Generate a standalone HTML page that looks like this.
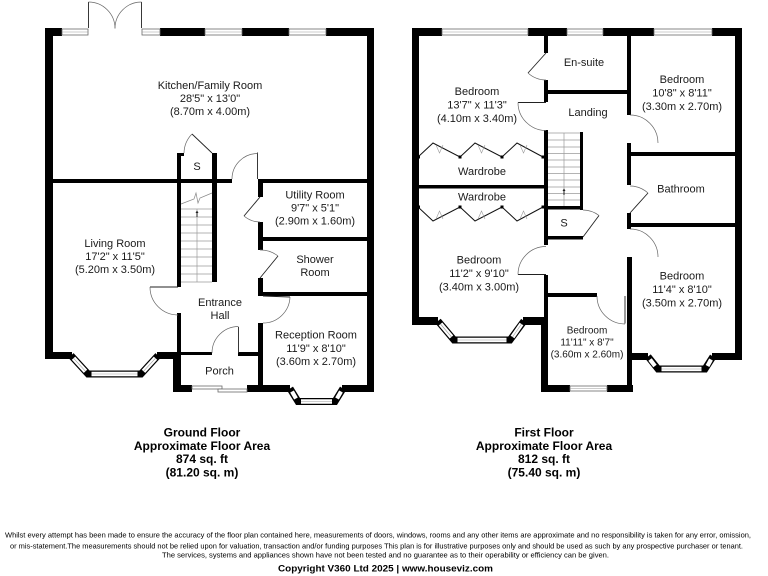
<!DOCTYPE html>
<html><head><meta charset="utf-8"><style>
html,body{margin:0;padding:0;background:#fff;}
svg{display:block;}
text{font-family:"Liberation Sans",Arial,sans-serif;fill:#1a1a1a;}
.r{font-size:11px;text-anchor:middle;}
.b{font-size:12px;font-weight:bold;text-anchor:middle;fill:#000;}
.d{font-size:7.2px;fill:#000;}
.w{fill:#000;}
.win{fill:#fff;stroke:#6a6a6a;stroke-width:0.8;}
.wl{stroke:#9a9a9a;stroke-width:0.6;}
.lf{stroke:#222;stroke-width:0.9;fill:none;}
.arc{stroke:#666;stroke-width:0.7;fill:none;}
.st{stroke:#9a9a9a;stroke-width:0.7;}
</style></head><body>
<svg width="768" height="576" viewBox="0 0 768 576" xmlns="http://www.w3.org/2000/svg">
<rect width="768" height="576" fill="#fff"/>

<!-- ================= GROUND FLOOR ================= -->
<!-- top wall -->
<rect class="w" x="45" y="28" width="17" height="8"/>
<rect class="w" x="160" y="28" width="45" height="8"/>
<rect class="w" x="242" y="28" width="47" height="8"/>
<rect class="w" x="326" y="28" width="48" height="8"/>
<rect class="win" x="62" y="29" width="26" height="6"/><line class="wl" x1="62" y1="32" x2="88" y2="32"/>
<rect class="win" x="142" y="29" width="18" height="6"/><line class="wl" x1="142" y1="32" x2="160" y2="32"/>
<rect class="win" x="205" y="29" width="37" height="6"/><line class="wl" x1="205" y1="32" x2="242" y2="32"/>
<rect class="win" x="289" y="29" width="37" height="6"/><line class="wl" x1="289" y1="32" x2="326" y2="32"/>
<!-- french doors -->
<line class="lf" x1="88.5" y1="28" x2="88.5" y2="2"/>
<line class="lf" x1="141.5" y1="28" x2="141.5" y2="2"/>
<path class="arc" d="M88.5,2 A26.5,26.5 0 0 1 115,28.5"/>
<path class="arc" d="M141.5,2 A26.5,26.5 0 0 0 115,28.5"/>

<!-- outer side walls -->
<rect class="w" x="45" y="28" width="8" height="331"/>
<rect class="w" x="367" y="28" width="7" height="364"/>

<!-- living room bottom + bay -->
<rect class="w" x="45" y="352" width="27" height="7"/>
<rect class="w" x="157" y="352" width="24" height="7"/>
<polyline points="71,355.5 88,374 141,374 158,355.5" fill="none" stroke="#000" stroke-width="7" stroke-linejoin="miter"/>
<line x1="73.5" y1="358.2" x2="85.5" y2="371.3" stroke="#fff" stroke-width="4.6"/>
<line x1="73.5" y1="358.2" x2="85.5" y2="371.3" class="wl"/>
<line x1="91.5" y1="374" x2="137.5" y2="374" stroke="#fff" stroke-width="4.6"/>
<line x1="91.5" y1="374" x2="137.5" y2="374" class="wl"/>
<line x1="143.5" y1="371.3" x2="155.5" y2="358.2" stroke="#fff" stroke-width="4.6"/>
<line x1="143.5" y1="371.3" x2="155.5" y2="358.2" class="wl"/>

<!-- porch -->
<rect class="w" x="173" y="352" width="8" height="40"/>
<rect class="w" x="173" y="385" width="19" height="7"/>
<rect class="w" x="247" y="385" width="16" height="7"/>
<rect class="win" x="192" y="386" width="30" height="3"/>
<rect class="win" x="218" y="389" width="29" height="3"/>
<rect class="w" x="181" y="352" width="31" height="3"/>
<rect class="w" x="238" y="352" width="22" height="4"/>
<line class="lf" x1="238.5" y1="353" x2="238.5" y2="327"/>
<path class="arc" d="M212,353 A26.5,26.5 0 0 1 238.5,326.5"/>

<!-- reception bottom + bay -->
<rect class="w" x="258" y="385" width="32" height="7"/>
<rect class="w" x="342" y="385" width="32" height="7"/>
<polyline points="290,388.5 298,401.5 335,401.5 343,388.5" fill="none" stroke="#000" stroke-width="7" stroke-linejoin="miter"/>
<line x1="292" y1="391.5" x2="296" y2="398.5" stroke="#fff" stroke-width="4.2"/>
<line x1="301" y1="401.5" x2="332" y2="401.5" stroke="#fff" stroke-width="4.6"/>
<line x1="301" y1="401.5" x2="332" y2="401.5" class="wl"/>
<line x1="337" y1="398.5" x2="341" y2="391.5" stroke="#fff" stroke-width="4.2"/>

<!-- interior walls -->
<rect class="w" x="53" y="179" width="179" height="4"/>
<rect class="w" x="258" y="179" width="109" height="4"/>
<line class="lf" x1="257.5" y1="179" x2="257.5" y2="152.5"/>
<path class="arc" d="M232,179 A25.5,25.5 0 0 1 257.5,153.5"/>

<!-- S cupboard -->
<rect class="w" x="177" y="153" width="4" height="26"/>
<rect class="w" x="177" y="153" width="7" height="3"/>
<rect class="w" x="212" y="153" width="5" height="26"/>
<line class="lf" x1="212" y1="153" x2="192" y2="134"/>
<path class="arc" d="M184,153 A28,28 0 0 1 192,134"/>
<text class="r" x="197" y="170">S</text>

<!-- stairs -->
<rect class="w" x="177" y="183" width="4" height="104"/>
<rect class="w" x="177" y="313" width="4" height="40"/>
<rect class="w" x="212" y="183" width="5" height="99"/>
<g class="st">
<line x1="181" y1="209" x2="212" y2="209"/>
<line x1="181" y1="217" x2="212" y2="217"/>
<line x1="181" y1="225" x2="212" y2="225"/>
<line x1="181" y1="233" x2="212" y2="233"/>
<line x1="181" y1="241" x2="212" y2="241"/>
<line x1="181" y1="249" x2="212" y2="249"/>
<line x1="181" y1="257" x2="212" y2="257"/>
<line x1="181" y1="266" x2="212" y2="266"/>
<line x1="181" y1="274" x2="212" y2="274"/>
<line x1="181" y1="282" x2="212" y2="282"/>
<line x1="197" y1="209" x2="197" y2="282"/>
</g>
<polyline points="181,204 194,199 196,193 198,203 200,198 212,193" fill="none" stroke="#888" stroke-width="0.7"/>
<line x1="197" y1="211" x2="197" y2="217" stroke="#222" stroke-width="1"/>
<path d="M195.5,213 L197,210.5 L198.5,213 Z" fill="#222"/>

<!-- living door -->
<line class="lf" x1="178" y1="287" x2="150" y2="287"/>
<path class="arc" d="M150,287 A28,28 0 0 0 178,315"/>

<!-- right column wall -->
<rect class="w" x="258" y="183" width="5" height="14"/>
<rect class="w" x="258" y="222" width="5" height="28"/>
<rect class="w" x="258" y="278" width="5" height="18"/>
<rect class="w" x="258" y="323" width="5" height="69"/>
<rect class="w" x="263" y="237" width="104" height="4"/>
<rect class="w" x="263" y="292" width="104" height="4"/>
<!-- utility door -->
<line class="lf" x1="260" y1="197" x2="244" y2="216"/>
<path class="arc" d="M244,216 A25,25 0 0 0 260,222"/>
<!-- shower door -->
<line class="lf" x1="260" y1="278" x2="278" y2="256"/>
<path class="arc" d="M278,256 A28,28 0 0 0 260,250"/>
<!-- reception door -->
<line class="lf" x1="263" y1="296" x2="290" y2="297"/>
<path class="arc" d="M290,297 A27,27 0 0 1 263,323"/>

<!-- GF labels -->
<text class="r" x="210" y="89">Kitchen/Family Room</text>
<text class="r" x="210" y="102">28'5" x 13'0"</text>
<text class="r" x="210" y="115">(8.70m x 4.00m)</text>
<text class="r" x="115" y="247">Living Room</text>
<text class="r" x="115" y="260">17'2" x 11'5"</text>
<text class="r" x="115" y="273">(5.20m x 3.50m)</text>
<text class="r" x="315" y="198.5">Utility Room</text>
<text class="r" x="315" y="211.5">9'7" x 5'1"</text>
<text class="r" x="315" y="224.5">(2.90m x 1.60m)</text>
<text class="r" x="315" y="263">Shower</text>
<text class="r" x="315" y="276">Room</text>
<text class="r" x="220" y="306">Entrance</text>
<text class="r" x="220" y="319">Hall</text>
<text class="r" x="316" y="338.5">Reception Room</text>
<text class="r" x="316" y="352">11'9" x 8'10"</text>
<text class="r" x="316" y="365">(3.60m x 2.70m)</text>
<text class="r" x="219.5" y="374.5">Porch</text>

<!-- ================= FIRST FLOOR ================= -->
<rect class="w" x="412" y="28" width="30" height="8"/>
<rect class="w" x="528" y="28" width="39" height="8"/>
<rect class="w" x="603" y="28" width="51" height="8"/>
<rect class="w" x="712" y="28" width="30" height="8"/>
<rect class="win" x="442" y="29" width="86" height="6"/><line class="wl" x1="442" y1="32" x2="528" y2="32"/>
<rect class="win" x="567" y="29" width="36" height="6"/><line class="wl" x1="567" y1="32" x2="603" y2="32"/>
<rect class="win" x="654" y="29" width="58" height="6"/><line class="wl" x1="654" y1="32" x2="712" y2="32"/>

<rect class="w" x="412" y="28" width="7" height="297"/>
<rect class="w" x="735" y="28" width="7" height="332"/>

<!-- bedroom3 bottom + bay -->
<rect class="w" x="412" y="317" width="26" height="8"/>
<rect class="w" x="523" y="317" width="25" height="8"/>
<polyline points="438,321 454,340 510,340 524,321" fill="none" stroke="#000" stroke-width="7" stroke-linejoin="miter"/>
<line x1="440.5" y1="324" x2="451.5" y2="337" stroke="#fff" stroke-width="4.6"/>
<line x1="440.5" y1="324" x2="451.5" y2="337" class="wl"/>
<line x1="457.5" y1="340" x2="506.5" y2="340" stroke="#fff" stroke-width="4.6"/>
<line x1="457.5" y1="340" x2="506.5" y2="340" class="wl"/>
<line x1="512.5" y1="337" x2="521.5" y2="324" stroke="#fff" stroke-width="4.6"/>
<line x1="512.5" y1="337" x2="521.5" y2="324" class="wl"/>

<!-- bedroom4 -->
<rect class="w" x="541" y="317" width="7" height="75"/>
<rect class="w" x="541" y="385" width="29" height="7"/>
<rect class="w" x="607" y="385" width="26" height="7"/>
<rect class="win" x="570" y="386" width="37" height="5"/><line class="wl" x1="570" y1="388.5" x2="607" y2="388.5"/>

<!-- bedroom5 bottom + bay -->
<rect class="w" x="627" y="353" width="21" height="7"/>
<rect class="w" x="712" y="353" width="30" height="7"/>
<polyline points="648,356.5 658,369 705,369 713,356.5" fill="none" stroke="#000" stroke-width="7" stroke-linejoin="miter"/>
<line x1="650" y1="359.5" x2="655" y2="366" stroke="#fff" stroke-width="4.2"/>
<line x1="661.5" y1="369" x2="701.5" y2="369" stroke="#fff" stroke-width="4.6"/>
<line x1="661.5" y1="369" x2="701.5" y2="369" class="wl"/>
<line x1="707.5" y1="366" x2="711" y2="359.5" stroke="#fff" stroke-width="4.2"/>

<!-- interior walls -->
<rect class="w" x="544" y="36" width="4" height="17"/>
<rect class="w" x="544" y="80" width="4" height="22"/>
<rect class="w" x="544" y="130" width="4" height="115"/>
<rect class="w" x="544" y="275" width="4" height="45"/>
<rect class="w" x="548" y="90" width="80" height="4"/>
<rect class="w" x="627" y="36" width="4" height="79"/>
<rect class="w" x="627" y="143" width="4" height="42"/>
<rect class="w" x="627" y="213" width="4" height="16"/>
<rect class="w" x="627" y="257" width="5" height="135"/>
<rect class="w" x="631" y="152" width="104" height="4"/>
<rect class="w" x="631" y="223" width="104" height="4"/>
<rect class="w" x="419" y="185" width="125" height="3.5"/>
<rect class="w" x="580" y="132" width="3" height="78"/>
<rect class="w" x="548" y="206" width="35" height="3.5"/>
<rect class="w" x="548" y="236" width="35" height="3.5"/>
<rect class="w" x="548" y="293" width="49" height="4"/>

<!-- FF doors -->
<line class="lf" x1="546" y1="53" x2="528" y2="73"/>
<path class="arc" d="M528,73 A27,27 0 0 0 546,80"/>
<line class="lf" x1="546" y1="102.5" x2="518" y2="102.5"/>
<path class="arc" d="M518,102.5 A28,28 0 0 0 546,130.5"/>
<path class="arc" d="M630,115 A28,28 0 0 1 658,143"/>
<line class="lf" x1="630" y1="213" x2="648" y2="193"/>
<path class="arc" d="M648,193 A27,27 0 0 0 630,186"/>
<path class="arc" d="M630,229 A28,28 0 0 1 658,257"/>
<line class="lf" x1="583" y1="237" x2="599" y2="215.5"/>
<path class="arc" d="M599,215.5 A27,27 0 0 0 583,210"/>
<line class="lf" x1="546" y1="274.5" x2="518" y2="274.5"/>
<path class="arc" d="M518,274.5 A28,28 0 0 1 546,246.5"/>
<line class="lf" x1="625" y1="296" x2="625" y2="323.5"/>
<path class="arc" d="M597,296 A28,28 0 0 0 625,324"/>

<!-- FF stairs -->
<g class="st">
<line x1="548" y1="133" x2="580" y2="133"/>
<line x1="548" y1="140" x2="580" y2="140"/>
<line x1="548" y1="147" x2="580" y2="147"/>
<line x1="548" y1="153.5" x2="580" y2="153.5"/>
<line x1="548" y1="160" x2="580" y2="160"/>
<line x1="548" y1="167" x2="580" y2="167"/>
<line x1="548" y1="173.5" x2="580" y2="173.5"/>
<line x1="548" y1="180" x2="580" y2="180"/>
<line x1="548" y1="187" x2="580" y2="187"/>
<line x1="548" y1="193.5" x2="580" y2="193.5"/>
<line x1="548" y1="200" x2="580" y2="200"/>
<line x1="564" y1="133" x2="564" y2="206"/>
</g>
<line x1="564" y1="189" x2="564" y2="195" stroke="#222" stroke-width="1"/>
<path d="M562.5,191 L564,188.5 L565.5,191 Z" fill="#222"/>

<!-- wardrobes -->
<polyline points="418,157 433,143 460,157 475,143 502,157 517,143 543,157" fill="none" stroke="#111" stroke-width="1"/>
<polyline points="436,145 439.5,153 443,145" fill="none" stroke="#999" stroke-width="0.6"/>
<polyline points="478,145 481.5,153 485,145" fill="none" stroke="#999" stroke-width="0.6"/>
<polyline points="520,145 523.5,153 527,145" fill="none" stroke="#999" stroke-width="0.6"/>
<rect x="417" y="155.5" width="3" height="3" fill="#000"/>
<rect x="458.5" y="155.5" width="3" height="3" fill="#000"/>
<rect x="500.5" y="155.5" width="3" height="3" fill="#000"/>
<rect x="541.5" y="155.5" width="3" height="3" fill="#000"/>
<polyline points="418,207 433,221 460,207 475,221 502,207 517,221 543,207" fill="none" stroke="#111" stroke-width="1"/>
<polyline points="436,219 439.5,211 443,219" fill="none" stroke="#999" stroke-width="0.6"/>
<polyline points="478,219 481.5,211 485,219" fill="none" stroke="#999" stroke-width="0.6"/>
<polyline points="520,219 523.5,211 527,219" fill="none" stroke="#999" stroke-width="0.6"/>
<rect x="417" y="205.5" width="3" height="3" fill="#000"/>
<rect x="458.5" y="205.5" width="3" height="3" fill="#000"/>
<rect x="500.5" y="205.5" width="3" height="3" fill="#000"/>
<rect x="541.5" y="205.5" width="3" height="3" fill="#000"/>

<!-- FF labels -->
<text class="r" x="477" y="95">Bedroom</text>
<text class="r" x="477" y="108.5">13'7" x 11'3"</text>
<text class="r" x="477" y="122">(4.10m x 3.40m)</text>
<text class="r" x="584" y="66">En-suite</text>
<text class="r" x="588" y="116">Landing</text>
<text class="r" x="682" y="83">Bedroom</text>
<text class="r" x="682" y="96.5">10'8" x 8'11"</text>
<text class="r" x="682" y="110">(3.30m x 2.70m)</text>
<text class="r" x="482" y="175">Wardrobe</text>
<text class="r" x="482" y="200.5">Wardrobe</text>
<text class="r" x="681" y="192.5">Bathroom</text>
<text class="r" x="564" y="226.5">S</text>
<text class="r" x="479" y="263.5">Bedroom</text>
<text class="r" x="479" y="277">11'2" x 9'10"</text>
<text class="r" x="479" y="290.5">(3.40m x 3.00m)</text>
<text class="r" x="682" y="279.5">Bedroom</text>
<text class="r" x="682" y="293">11'4" x 8'10"</text>
<text class="r" x="682" y="306.5">(3.50m x 2.70m)</text>
<text class="r" x="587" y="333.5" style="font-size:10px">Bedroom</text>
<text class="r" x="587" y="345.5" style="font-size:10px">11'11" x 8'7"</text>
<text class="r" x="587" y="357.5" style="font-size:10px">(3.60m x 2.60m)</text>

<!-- area text -->
<text class="b" x="202" y="436.5">Ground Floor</text>
<text class="b" x="202" y="450">Approximate Floor Area</text>
<text class="b" x="202" y="463">874 sq. ft</text>
<text class="b" x="202" y="476.5">(81.20 sq. m)</text>
<text class="b" x="544" y="436.5">First Floor</text>
<text class="b" x="544" y="450">Approximate Floor Area</text>
<text class="b" x="544" y="463">812 sq. ft</text>
<text class="b" x="544" y="476.5">(75.40 sq. m)</text>

<!-- disclaimer -->
<text class="d" x="5" y="537.5" textLength="746" lengthAdjust="spacingAndGlyphs">Whilst every attempt has been made to ensure the accuracy of the floor plan contained here, measurements of doors, windows, rooms and any other items are approximate and no responsibility is taken for any error, omission,</text>
<text class="d" x="10" y="548.5" textLength="733" lengthAdjust="spacingAndGlyphs">or mis-statement.The measurements should not be relied upon for valuation, transaction and/or funding purposes This plan is for illustrative purposes only and should be used as such by any prospective purchaser or tenant.</text>
<text class="d" x="162" y="557.5" textLength="447" lengthAdjust="spacingAndGlyphs">The services, systems and appliances shown have not been tested and no guarantee as to their operability or efficiency can be given.</text>
<text x="278" y="571.5" textLength="215" lengthAdjust="spacingAndGlyphs" style="font-size:9.5px;font-weight:bold;fill:#000">Copyright V360 Ltd 2025 | www.houseviz.com</text>
</svg>
</body></html>
